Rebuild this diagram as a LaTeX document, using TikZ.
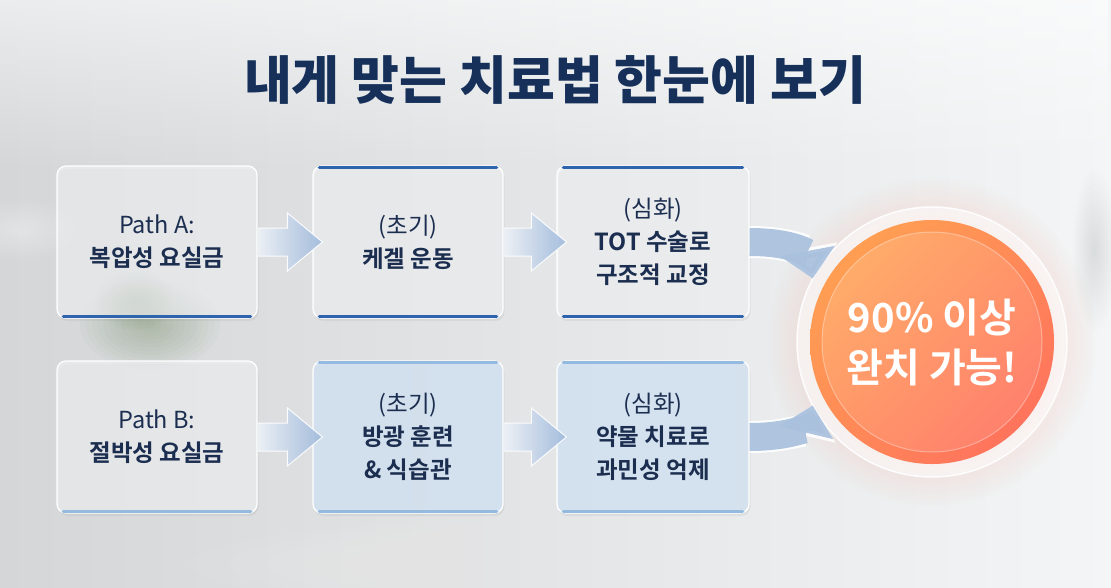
\documentclass[tikz,border=0pt]{standalone}
\usepackage{fontspec}
\newfontfamily\kr{Noto Sans CJK KR}[BoldFont={Noto Sans CJK KR Bold}]
\newfontfamily\krblack{Noto Sans CJK KR Black}
\usetikzlibrary{arrows.meta,shadows,fadings,shadings,calc}
\tikzfading[name=myfadedown, top color=transparent!0, bottom color=transparent!100]
\tikzfading[name=myfadeout, inner color=transparent!0, outer color=transparent!100]
\definecolor{navy}{HTML}{16305A}
\definecolor{txt}{HTML}{1C2E50}
\definecolor{bgL}{HTML}{D4D6D8}
\definecolor{bgR}{HTML}{F3F5F6}
\definecolor{cardgray}{HTML}{F2F4F6}
\definecolor{cardblu}{HTML}{D2E3F4}
\definecolor{accDark}{HTML}{2E64AE}
\definecolor{accLight}{HTML}{95BAE0}
\definecolor{arrL}{HTML}{EEF2F7}
\definecolor{arrR}{HTML}{9DB8DB}
\definecolor{curv}{HTML}{AAC1DE}
\definecolor{orA}{HTML}{FFA751}
\definecolor{orB}{HTML}{FF8A57}
\definecolor{orC}{HTML}{FF6A5F}
\definecolor{glow}{HTML}{FF7A50}
\definecolor{plant}{HTML}{6F8A5E}
\tikzset{
  card/.style={draw=white, line width=1.2pt, rounded corners=9pt, fill=cardgray,
    fill opacity=0.62, text opacity=1, minimum height=152pt, align=center, text=txt,
    font=\kr\fontsize{23.5}{33}\selectfont,
    drop shadow={opacity=0.10, shadow xshift=1.5pt, shadow yshift=-3pt}},
  cardb/.style={card, fill=cardblu, fill opacity=0.75},
  accline/.style={line width=3.5pt, line cap=round},
  curvout/.style={white, opacity=0.9, line width=32pt, -{Triangle[width=60pt,length=31pt]}},
  curvin/.style={curv, opacity=0.95, line width=28pt, -{Triangle[width=54pt,length=28pt]}},
}
\newcommand\blockarr[2]{%
  \shadedraw[left color=arrL, right color=arrR, draw=white, line width=1pt, opacity=0.9]
    ($(#1.east)+(0,-14)$) -- ($(#2.west)+(-25,-14)$) -- ($(#2.west)+(-25,-29)$)
    -- ($(#2.west)+(10,0)$) -- ($(#2.west)+(-25,29)$) -- ($(#2.west)+(-25,14)$)
    -- ($(#1.east)+(0,14)$);}
% soft blurred blob: x, y, rx, ry, colour, layer opacity
\newcommand\softblob[6]{%
  \foreach \k in {1,...,12}{\fill[#5, opacity=#6] (#1,#2) ellipse ({#3*\k/12} and {#4*\k/12});}}
\begin{document}
\begin{tikzpicture}[x=1pt,y=-1pt]
\useasboundingbox (0,0) rectangle (1111,587);
% background
\shade[left color=bgL, right color=bgR] (0,0) rectangle (1111,587);
\fill[white, opacity=0.55, path fading=myfadedown] (0,0) rectangle (1111,170);
\softblob{150}{325}{70}{45}{plant}{0.035}
\softblob{135}{300}{40}{30}{plant}{0.03}
\softblob{1045}{300}{45}{330}{white}{0.035}
\softblob{1100}{300}{30}{330}{white}{0.035}
\softblob{650}{565}{460}{50}{white}{0.035}
\softblob{1095}{250}{22}{80}{plant}{0.012}
\softblob{20}{230}{60}{30}{white}{0.035}
% title
\node[font=\krblack\fontsize{52}{58}\selectfont, text=navy] (title) at (555,80) {내게 맞는 치료법 한눈에 보기};
% glow and goal circle
\fill[glow, opacity=0.5, path fading=myfadeout] (932,342) circle (165);
\node[circle, minimum size=270pt, inner sep=0pt] (goal) at (932,342) {};
\fill[white, opacity=0.55] (goal.center) circle (135);
\draw[white, line width=1.5pt, opacity=0.9] (goal.center) circle (135);
\shade[upper left=orA, upper right=orB, lower left=orB, lower right=orC] (goal.center) circle (122);
\shade[upper left=orA!85!white, upper right=orB!90!white, lower left=orB!90!white, lower right=orC!90!white] (goal.center) circle (110);
\draw[white, opacity=0.35, line width=1pt] (goal.center) circle (110);
\node[font=\kr\bfseries\fontsize{40}{50}\selectfont, text=white, align=center] (goaltxt) at (932,342) {90\% 이상\\완치 가능!};
% cards
\node[card, minimum width=200pt] (a1) at (157,242) {Path A:\\\textbf{복압성 요실금}};
\node[card, minimum width=190pt] (a2) at (408,242) {(초기)\\\textbf{케겔 운동}};
\node[card, minimum width=192pt] (a3) at (653,242) {(심화)\\\textbf{TOT 수술로}\\\textbf{구조적 교정}};
\node[card, minimum width=200pt] (b1) at (157,437) {Path B:\\\textbf{절박성 요실금}};
\node[cardb, minimum width=190pt] (b2) at (408,437) {(초기)\\\textbf{방광 훈련}\\\textbf{\& 식습관}};
\node[cardb, minimum width=192pt] (b3) at (653,437) {(심화)\\\textbf{약물 치료로}\\\textbf{과민성 억제}};
% accent lines
\draw[accline, accDark] ($(a1.south west)+(7,-2)$) -- ($(a1.south east)+(-7,-2)$);
\foreach \n in {a2,a3}{
  \draw[accline, accDark] ($(\n.south west)+(7,-2)$) -- ($(\n.south east)+(-7,-2)$);
  \draw[accline, accDark] ($(\n.north west)+(7,2)$) -- ($(\n.north east)+(-7,2)$);
}
\draw[accline, accLight] ($(b1.south west)+(7,-2)$) -- ($(b1.south east)+(-7,-2)$);
\foreach \n in {b2,b3}{
  \draw[accline, accLight] ($(\n.south west)+(7,-2)$) -- ($(\n.south east)+(-7,-2)$);
  \draw[accline, accLight] ($(\n.north west)+(7,2)$) -- ($(\n.north east)+(-7,2)$);
}
% straight block arrows
\blockarr{a1}{a2}
\blockarr{a2}{a3}
\blockarr{b1}{b2}
\blockarr{b2}{b3}
% curved arrows into goal
\draw[curvout] (a3.east) .. controls (794,242) and (808,254) .. (goal.152);
\draw[curvin] (a3.east) .. controls (794,242) and (808,254) .. (goal.152);
\draw[curvout] (b3.east) .. controls (794,437) and (808,425) .. (goal.208);
\draw[curvin] (b3.east) .. controls (794,437) and (808,425) .. (goal.208);
\end{tikzpicture}
\end{document}
